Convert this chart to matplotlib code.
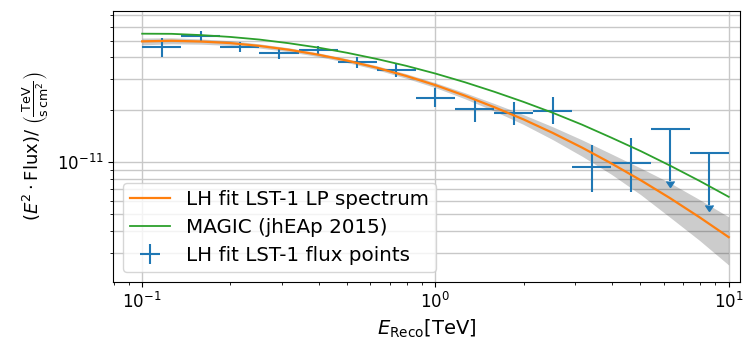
import numpy as np
import matplotlib
matplotlib.use("Agg")
import matplotlib.pyplot as plt
from matplotlib.ticker import NullFormatter

# energy bins of the flux points [TeV]
e_edges = [0.1, 0.1359, 0.1848, 0.2512, 0.3415, 0.4642, 0.6310, 0.8577,
           1.166, 1.585, 2.154, 2.929, 3.981, 5.412, 7.356, 10.0]
e_ref = [0.1166, 0.1585, 0.2154, 0.2929, 0.3981, 0.5412, 0.7356, 1.0,
         1.359, 1.848, 2.512, 3.415, 4.642, 6.310, 8.577]

# E^2 * flux of the points [TeV / s cm2]
e2dnde = [4.60e-11, 5.30e-11, 4.62e-11, 4.25e-11, 4.40e-11, 3.77e-11, 3.38e-11,
          2.34e-11, 2.01e-11, 1.92e-11, 1.97e-11, 9.40e-12, 9.91e-12,
          1.55e-11, 1.13e-11]
e2dnde_errn = [0.57e-11, 0.34e-11, 0.32e-11, 0.34e-11, 0.28e-11, 0.27e-11, 0.29e-11,
               0.28e-11, 0.30e-11, 0.29e-11, 0.32e-11, 0.27e-11, 0.32e-11,
               0.775e-11, 0.565e-11]
e2dnde_errp = [0.58e-11, 0.38e-11, 0.29e-11, 0.25e-11, 0.26e-11, 0.26e-11, 0.31e-11,
               0.31e-11, 0.26e-11, 0.29e-11, 0.40e-11, 0.32e-11, 0.38e-11,
               0.0, 0.0]
is_ul = [False] * 13 + [True, True]

# model curves
e_curve = [0.1, 0.1259, 0.1585, 0.1995, 0.2512, 0.3162, 0.3981, 0.5012, 0.631,
           0.7943, 1.0, 1.259, 1.585, 1.995, 2.512, 3.162, 3.981, 5.012, 6.31,
           7.943, 10.0]
lp_flux = [4.95e-11, 4.99e-11, 4.94e-11, 4.84e-11, 4.66e-11, 4.43e-11, 4.15e-11,
           3.83e-11, 3.49e-11, 3.13e-11, 2.77e-11, 2.41e-11, 2.07e-11, 1.76e-11,
           1.47e-11, 1.21e-11, 9.81e-12, 7.85e-12, 6.19e-12, 4.81e-12, 3.69e-12]
lp_flux_err = [2.23e-12, 2.00e-12, 1.73e-12, 1.50e-12, 1.30e-12, 1.15e-12, 1.04e-12,
               9.6e-13, 9.4e-13, 9.4e-13, 9.1e-13, 9.6e-13, 1.04e-12, 1.14e-12,
               1.25e-12, 1.31e-12, 1.32e-12, 1.37e-12, 1.39e-12, 1.27e-12, 1.14e-12]
magic_flux = [5.48e-11, 5.47e-11, 5.38e-11, 5.25e-11, 5.07e-11, 4.83e-11, 4.56e-11,
              4.25e-11, 3.92e-11, 3.58e-11, 3.23e-11, 2.88e-11, 2.54e-11, 2.22e-11,
              1.92e-11, 1.64e-11, 1.38e-11, 1.155e-11, 9.53e-12, 7.79e-12, 6.30e-12]

x = np.array(e_ref)
edges = np.array(e_edges)
y = np.array(e2dnde)
xerr = np.array([x - edges[:-1], edges[1:] - x])
yerr = np.array([e2dnde_errn, e2dnde_errp])
ul = np.array(is_ul)
lp = np.array(lp_flux)
lp_err = np.array(lp_flux_err)

fig = plt.figure(figsize=(7.44, 3.45), dpi=100)
ax = fig.add_axes([0.152, 0.183, 0.843, 0.785])

# flux points, upper limits drawn separately so the legend shows a plain cross
ax.errorbar(x[~ul], y[~ul], xerr=xerr[:, ~ul], yerr=yerr[:, ~ul],
            ls="none", marker="None", color="tab:blue",
            label="LH fit LST-1 flux points")
ax.errorbar(x[ul], y[ul], xerr=xerr[:, ul], yerr=yerr[:, ul], uplims=True,
            ls="none", marker="None", color="tab:blue")

ax.fill_between(e_curve, lp - lp_err, lp + lp_err, color="k", alpha=0.2,
                linewidth=0, zorder=1)
ax.plot(e_curve, lp_flux, color="tab:orange", lw=1.6, label="LH fit LST-1 LP spectrum")
ax.plot(e_curve, magic_flux, color="tab:green", lw=1.3, label="MAGIC (jhEAp 2015)")

ax.set_xscale("log")
ax.set_yscale("log")
ax.set_xlim(0.0796, 10.95)
ax.set_ylim(2.04e-12, 7.4e-11)
ax.set_yticks([1e-11])
ax.yaxis.set_minor_formatter(NullFormatter())

ax.grid(True, which="major", color="#c8c8c8", lw=1.0)
ax.yaxis.grid(True, which="minor", color="#c8c8c8", lw=1.0)
ax.set_axisbelow(True)
ax.tick_params(labelsize=12)

ax.set_xlabel(r"$E_\mathrm{Reco}$[TeV]", fontsize=14)
ax.set_ylabel(r"$(E^2 \cdot \mathrm{Flux})$/ $\left(\frac{\mathrm{TeV}}{\mathrm{s\,cm^2}}\right)$",
              fontsize=13, labelpad=4)

ax.legend(loc="lower left", fontsize=14.3, labelspacing=0.45, borderpad=0.35)

fig.savefig("out.png", dpi=100)
